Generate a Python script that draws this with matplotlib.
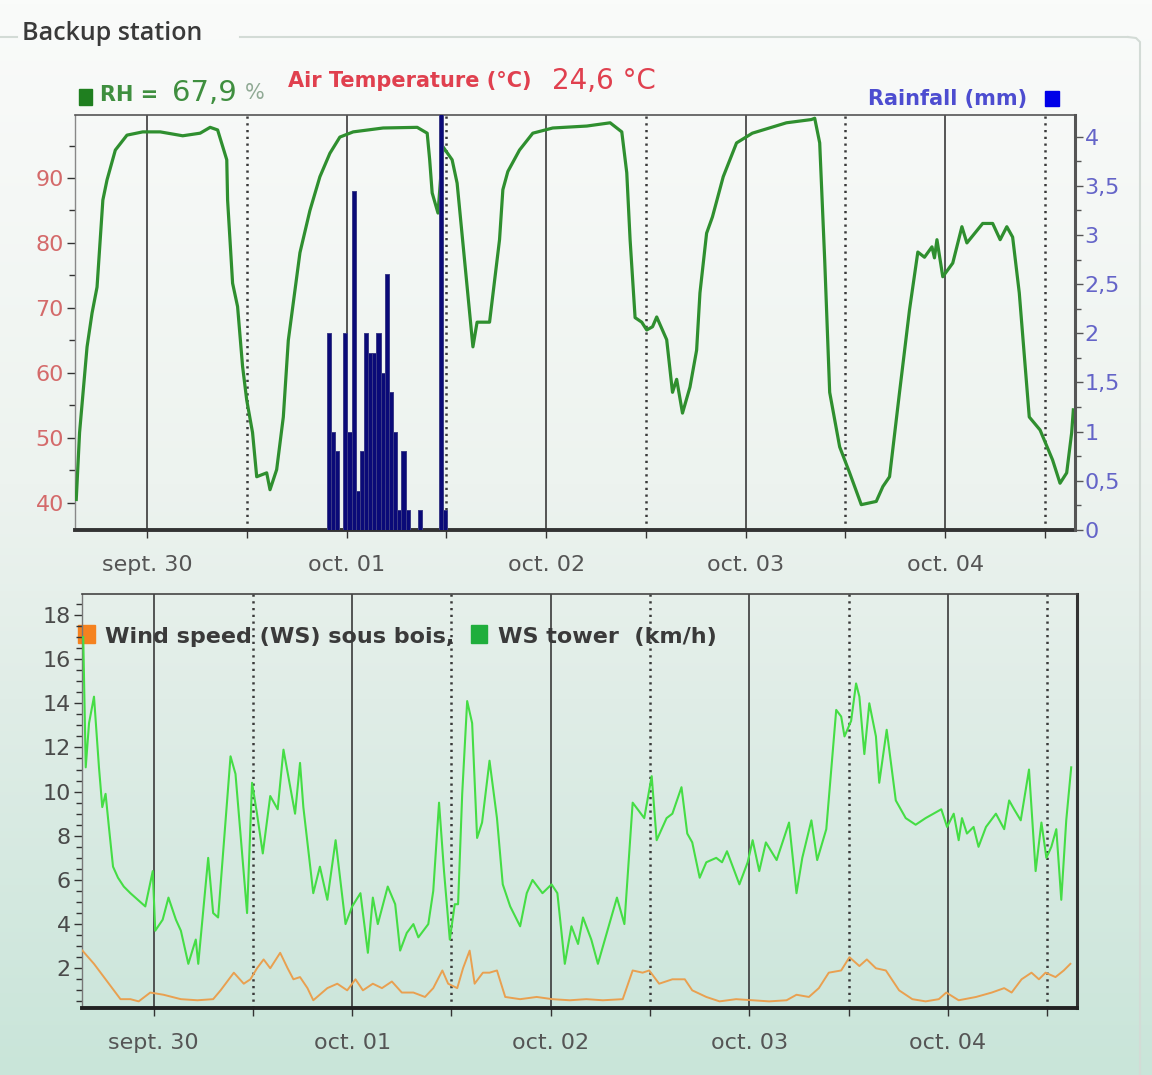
import matplotlib.pyplot as plt
import numpy as np
from matplotlib.ticker import MultipleLocator, FuncFormatter
from matplotlib.patches import Rectangle

W, H = 1152, 1075

# hours since sept. 30 00:00
rh_hours = [-8.5, -8.1, -7.2, -6.6, -6.0, -5.3, -4.8, -3.8, -2.4, -0.5, 1.6, 4.3, 6.4, 7.6,
            8.5, 9.6, 9.7, 10.3, 10.9, 11.5, 12.0, 12.7, 13.2, 14.4, 14.8, 15.6, 16.4, 17.0,
            18.4, 19.6, 20.8, 22.0, 23.2, 24.8, 28.4, 32.5, 33.7, 34.0, 34.3, 35.0, 35.6, 36.7,
            37.3, 39.2, 39.7, 41.2, 42.4, 42.8, 43.4, 44.8, 46.4, 48.8, 52.9, 55.7, 57.1, 57.7,
            58.1, 58.7, 59.5, 60.1, 60.8, 61.3, 62.5, 63.2, 63.7, 64.4, 65.3, 66.1, 66.5, 67.3,
            68.0, 69.3, 70.9, 72.8, 76.9, 79.9, 80.3, 80.9, 81.5, 82.1, 83.3, 84.5, 85.9, 87.7,
            88.5, 89.3, 90.5, 91.7, 92.7, 93.5, 94.4, 94.7, 95.0, 95.7, 96.9, 98.0, 98.6, 100.5,
            101.7, 102.6, 103.4, 104.1, 104.9, 106.1, 107.4, 108.9, 109.8, 110.6, 111.2, 111.4]
rh_values = [40.5, 50.8, 64.0, 69.2, 73.2, 86.6, 89.7, 94.3, 96.6, 97.1, 97.1, 96.5, 96.9, 97.8,
             97.4, 92.8, 86.6, 73.8, 70.2, 61.0, 55.8, 50.8, 44.0, 44.6, 42.0, 45.1, 53.2, 65.0,
             78.5, 85.0, 90.2, 93.8, 96.3, 97.1, 97.7, 97.8, 96.9, 92.8, 87.7, 84.6, 94.8, 92.8,
             89.2, 64.0, 67.8, 67.8, 80.5, 88.2, 91.0, 94.3, 96.9, 97.7, 98.0, 98.5, 97.1, 90.8,
             80.5, 68.5, 67.8, 66.6, 67.1, 68.6, 65.1, 57.0, 59.0, 53.8, 57.8, 63.5, 72.3, 81.5,
             84.0, 90.2, 95.4, 96.9, 98.5, 99.0, 99.2, 95.4, 77.4, 57.0, 48.6, 44.6, 39.7, 40.2,
             42.5, 44.0, 57.0, 69.7, 78.6, 77.8, 79.4, 77.7, 80.5, 74.8, 76.9, 82.5, 80.0, 83.0,
             83.0, 80.5, 82.5, 80.9, 72.3, 53.2, 51.2, 46.6, 43.0, 44.6, 50.8, 54.3]

rain_hours = [21.6, 22.1, 22.6, 23.6, 24.1, 24.6, 25.1, 25.6, 26.1, 26.6, 27.1, 27.6, 28.1,
              28.6, 29.1, 29.6, 30.1, 30.6, 31.1, 32.6, 35.1, 35.6]
rain_mm = [2.0, 1.0, 0.8, 2.0, 1.0, 3.45, 0.4, 0.8, 2.0, 1.8, 1.8, 2.0, 1.6,
           2.6, 1.4, 1.0, 0.2, 0.8, 0.2, 0.2, 4.5, 0.2]

tower_hours = [-8.5, -8.2, -7.8, -7.2, -6.6, -6.2, -5.8, -5.4, -4.9, -4.3, -3.6, -2.8, -1.9, -1.0,
               -0.1, 0.2, 1.1, 1.8, 2.7, 3.3, 4.2, 5.1, 5.4, 6.6, 7.2, 7.8, 9.3, 9.9, 11.3, 11.9,
               12.5, 13.2, 14.1, 15.0, 15.7, 17.1, 17.7, 18.1, 19.3, 20.1, 21.0, 22.0, 23.2, 24.0,
               25.0, 25.9, 26.5, 27.1, 28.3, 29.2, 29.8, 30.6, 31.4, 32.0, 33.2, 33.8, 34.5, 35.1,
               35.8, 36.4, 36.8, 37.3, 37.9, 38.5, 39.1, 39.7, 40.6, 41.5, 42.2, 43.1, 44.3, 45.1,
               45.8, 47.0, 48.1, 48.8, 49.7, 50.5, 51.3, 51.9, 52.9, 53.7, 56.0, 56.9, 57.9, 59.3,
               60.2, 60.8, 62.0, 62.7, 63.8, 64.5, 65.1, 66.0, 66.8, 68.0, 68.7, 69.3, 70.8, 71.8,
               72.4, 73.2, 74.0, 75.3, 76.8, 77.7, 78.4, 79.5, 80.2, 81.3, 82.5, 83.1, 83.5, 84.3,
               84.9, 85.3, 85.9, 86.5, 87.3, 87.7, 88.6, 89.7, 90.9, 92.1, 93.3, 95.2, 95.9, 96.7,
               97.3, 97.7, 98.3, 99.1, 99.7, 100.6, 101.8, 102.8, 103.4, 104.0, 104.8, 105.8,
               106.6, 107.3, 107.9, 108.5, 109.1, 109.7, 110.3, 110.9]
tower_kmh = [17.0, 11.1, 13.1, 14.3, 11.1, 9.3, 9.9, 8.4, 6.6, 6.1, 5.7, 5.4, 5.1, 4.8,
             6.4, 3.7, 4.2, 5.2, 4.2, 3.7, 2.2, 3.3, 2.2, 7.0, 4.5, 4.3, 11.6, 10.8, 4.5, 10.4,
             9.0, 7.2, 9.8, 9.2, 11.9, 9.0, 11.3, 9.3, 5.4, 6.6, 5.1, 7.8, 4.0, 4.8,
             5.4, 2.7, 5.2, 4.0, 5.7, 4.9, 2.8, 3.6, 4.0, 3.4, 4.0, 5.5, 9.5, 6.4,
             3.3, 4.9, 4.9, 9.9, 14.1, 13.1, 7.9, 8.6, 11.4, 8.8, 5.8, 4.8, 3.9, 5.4,
             6.0, 5.4, 5.8, 5.4, 2.2, 3.9, 3.1, 4.3, 3.3, 2.2, 5.2, 4.0, 9.5, 8.8,
             10.7, 7.8, 8.8, 9.0, 10.2, 8.1, 7.7, 6.1, 6.8, 7.0, 6.8, 7.3, 5.8, 6.8,
             7.8, 6.4, 7.7, 6.9, 8.6, 5.4, 7.0, 8.7, 6.9, 8.3, 13.7, 13.4, 12.5, 13.2,
             14.9, 14.3, 11.7, 14.0, 12.5, 10.4, 12.8, 9.6, 8.8, 8.5, 8.8, 9.2, 8.4, 9.0,
             7.8, 8.8, 8.1, 8.4, 7.5, 8.4, 9.0, 8.3, 9.6, 9.2, 8.7, 11.0,
             6.4, 8.6, 7.0, 7.5, 8.3, 5.1, 8.7, 11.1]

bois_hours = [-8.6, -7.2, -6.0, -4.8, -4.0, -2.8, -1.8, -0.4, 1.2, 3.3, 5.3, 7.2, 8.1, 9.7,
              10.9, 11.7, 12.5, 13.3, 14.1, 15.3, 16.2, 16.9, 17.7, 18.6, 19.3, 21.0, 22.2, 23.4,
              24.4, 25.3, 26.5, 27.6, 28.8, 30.0, 31.4, 32.8, 33.8, 34.9, 35.6, 36.7, 37.4, 38.2,
              38.8, 39.8, 40.6, 41.5, 42.5, 44.3, 46.3, 48.2, 50.3, 52.3, 54.3, 56.7, 57.9, 59.1,
              59.9, 61.1, 62.7, 64.2, 65.1, 66.8, 68.4, 70.4, 72.4, 74.4, 76.5, 77.7, 79.2, 80.4,
              81.6, 83.1, 84.1, 85.3, 86.2, 87.3, 88.5, 90.1, 91.7, 93.3, 94.9, 95.8, 97.3, 99.4,
              101.3, 102.8, 103.7, 104.9, 106.1, 107.0, 107.8, 109.0, 110.0, 110.8]
bois_kmh = [2.8, 2.2, 1.6, 1.0, 0.6, 0.6, 0.5, 0.9, 0.8, 0.6, 0.55, 0.6, 1.0, 1.8,
            1.3, 1.5, 2.0, 2.4, 2.0, 2.7, 2.0, 1.5, 1.6, 1.1, 0.55, 1.1, 1.3, 1.0,
            1.5, 1.0, 1.3, 1.1, 1.4, 0.9, 0.9, 0.7, 1.1, 1.9, 1.3, 1.1, 2.0, 2.8,
            1.3, 1.8, 1.8, 1.9, 0.7, 0.6, 0.7, 0.6, 0.55, 0.6, 0.55, 0.6, 1.9, 1.8,
            1.9, 1.3, 1.5, 1.5, 1.0, 0.7, 0.5, 0.6, 0.55, 0.5, 0.55, 0.8, 0.7, 1.1,
            1.8, 1.9, 2.5, 2.1, 2.4, 2.0, 1.9, 1.0, 0.6, 0.5, 0.6, 0.9, 0.55, 0.7,
            0.9, 1.1, 0.9, 1.5, 1.8, 1.5, 1.8, 1.6, 1.9, 2.2]

day_ticks = [0, 24, 48, 72, 96]
day_labels = ["sept. 30", "oct. 01", "oct. 02", "oct. 03", "oct. 04"]
noon_ticks = [12, 36, 60, 84, 108]

plt.rcParams['font.family'] = 'DejaVu Sans'

fig = plt.figure(figsize=(W / 100, H / 100), dpi=100)

# background gradient and fieldset frame, in pixel coordinates
bg = fig.add_axes([0, 0, 1, 1], zorder=-10)
bg.set_xlim(0, W)
bg.set_ylim(H, 0)
bg.axis('off')
t = np.linspace(0, 1, 300)
stops = [0, 0.45, 0.65, 1]
cols = np.array([[250, 251, 250], [237, 243, 239], [224, 237, 231], [201, 229, 217]]) / 255
grad = np.stack([np.interp(t, stops, cols[:, i]) for i in range(3)], axis=-1)[:, None, :]
bg.imshow(grad, aspect='auto', extent=[0, W, H, 0], zorder=0)
frame_col = '#d3dbd6'
bg.plot([0, 17], [37, 37], color=frame_col, lw=1.5, zorder=1)
bg.plot([240, 1128], [37, 37], color=frame_col, lw=1.5, zorder=1)
bg.plot([1128, 1136, 1140, 1140], [37, 38, 42, H], color=frame_col, lw=1.5, zorder=1)


def fx(x):
    return x / W


def fy(y):
    return 1 - y / H


fig.text(fx(22), fy(33), "Backup station", fontsize=18, color='#3a3a3a',
         family='Open Sans', weight='semibold', va='center', ha='left')


def style_time_axis(ax):
    ax.set_xlim(-8.65, 111.6)
    ax.set_xticks(day_ticks)
    ax.set_xticklabels(day_labels)
    ax.set_xticks(noon_ticks, minor=True)
    ax.grid(axis='x', which='major', color='#3a3a3a', lw=1.2, ls='-')
    ax.grid(axis='x', which='minor', color='#3a3a3a', lw=1.8, ls=(0, (0.9, 1.8)))
    ax.tick_params(axis='x', which='both', direction='out', length=6, width=1,
                   color='#333333', labelsize=16, labelcolor='#555555', pad=12)
    ax.set_axisbelow(True)


# ---------------- top panel: RH + rainfall ----------------
ax1 = fig.add_axes([fx(75), fy(530), 1000 / W, 415 / H])
ax1.set_facecolor('none')
ax1.plot(rh_hours, rh_values, color='#2f8f2f', lw=2.3, zorder=3)
ax1.set_ylim(35.8, 99.7)
ax1.yaxis.set_minor_locator(MultipleLocator(5))
ax1.set_yticks([40, 50, 60, 70, 80, 90])
ax1.tick_params(axis='y', which='major', direction='out', length=6, width=1,
                color='#333333', labelsize=16, labelcolor='#d46a6a', pad=2)
ax1.tick_params(axis='y', which='minor', direction='out', length=4, width=1, color='#333333')
style_time_axis(ax1)
ax1.spines['left'].set_color('#888888')
ax1.spines['left'].set_linewidth(1)
ax1.spines['top'].set_color('#555555')
ax1.spines['top'].set_linewidth(1.2)
ax1.spines['bottom'].set_color('#333333')
ax1.spines['bottom'].set_linewidth(2.8)
ax1.spines['right'].set_visible(False)

ax2 = ax1.twinx()
ax2.bar(rain_hours, rain_mm, width=0.5, align='edge', color='#0a0a78',
        edgecolor='#3b3b86', lw=0.7, zorder=4)
ax2.set_ylim(0, 4.22)
ax2.yaxis.set_major_locator(MultipleLocator(0.5))
ax2.yaxis.set_minor_locator(MultipleLocator(0.25))
ax2.yaxis.set_major_formatter(FuncFormatter(lambda v, p: ('%g' % v).replace('.', ',')))
ax2.tick_params(axis='y', which='major', direction='out', length=6, width=1,
                color='#555555', labelsize=16, labelcolor='#6464c8', pad=1)
ax2.tick_params(axis='y', which='minor', direction='out', length=4, width=1, color='#555555')
for s in ['left', 'top', 'bottom']:
    ax2.spines[s].set_visible(False)
ax2.spines['right'].set_color('#555555')
ax2.spines['right'].set_linewidth(2.2)

# header texts
bg.add_patch(Rectangle((79, 89), 13, 16, color='#1f7f1f', zorder=2))
fig.text(fx(100), fy(101), "RH =", fontsize=15, weight='bold', color='#3f8f3f', va='baseline')
fig.text(fx(172), fy(101), "67,9", fontsize=21, color='#3f8f3f', va='baseline')
fig.text(fx(245), fy(99), "%", fontsize=15, color='#90aa95', va='baseline')
fig.text(fx(288), fy(87), "Air Temperature (°C)", fontsize=15, weight='bold',
         color='#e0404f', va='baseline')
fig.text(fx(552), fy(89), "24,6 °C", fontsize=20, color='#e0404f', va='baseline')
fig.text(fx(868), fy(105), "Rainfall (mm)", fontsize=15, weight='bold', color='#4d4dd0',
         va='baseline')
bg.add_patch(Rectangle((1045, 91), 14, 15, color='#0000e8', zorder=2))

# ---------------- bottom panel: wind speed ----------------
ax3 = fig.add_axes([fx(82), fy(1008), 995 / W, 414 / H])
ax3.set_facecolor('none')
ax3.plot(tower_hours, tower_kmh, color='#45dd45', lw=1.5, zorder=3)
ax3.plot(bois_hours, bois_kmh, color='#e9a050', lw=1.4, zorder=3)
ax3.set_ylim(0.2, 18.95)
ax3.set_yticks(list(range(2, 19, 2)))
ax3.yaxis.set_minor_locator(MultipleLocator(0.5))
ax3.tick_params(axis='y', which='major', direction='out', length=6, width=1,
                color='#333333', labelsize=16, labelcolor='#4a4a4a', pad=2)
ax3.tick_params(axis='y', which='minor', direction='out', length=4, width=1, color='#333333')
style_time_axis(ax3)
ax3.spines['left'].set_color('#777777')
ax3.spines['left'].set_linewidth(1)
ax3.spines['top'].set_color('#444444')
ax3.spines['top'].set_linewidth(1.2)
ax3.spines['bottom'].set_color('#222222')
ax3.spines['bottom'].set_linewidth(2.8)
ax3.spines['right'].set_color('#333333')
ax3.spines['right'].set_linewidth(2.2)

bg.add_patch(Rectangle((78, 625), 17, 18, color='#f5821f', zorder=2))
fig.text(fx(105), fy(643), "Wind speed (WS) sous bois,", fontsize=16, weight='bold',
         color='#3a3a3a', va='baseline', zorder=5)
bg.add_patch(Rectangle((471, 625), 16, 18, color='#1fae3c', zorder=2))
fig.text(fx(498), fy(643), "WS tower  (km/h)", fontsize=16, weight='bold',
         color='#3a3a3a', va='baseline', zorder=5)

fig.savefig("out.png", dpi=100)
